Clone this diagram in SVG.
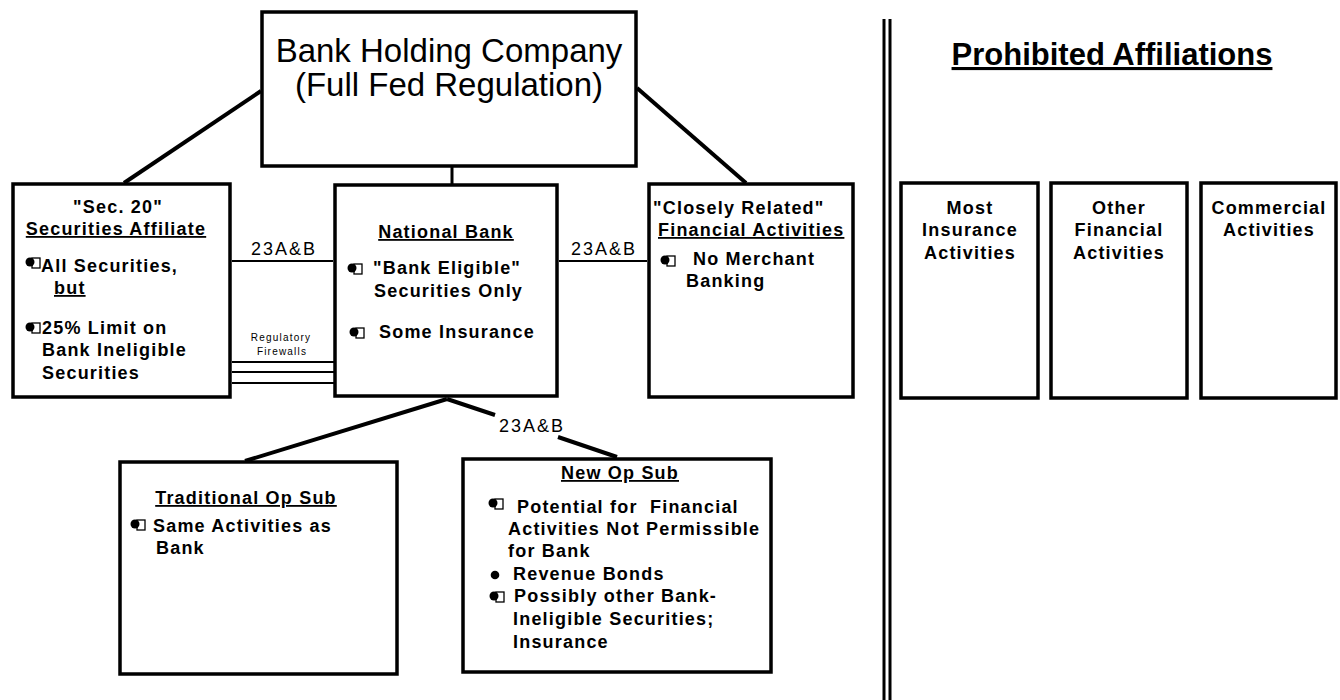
<svg xmlns="http://www.w3.org/2000/svg" xmlns:xlink="http://www.w3.org/1999/xlink" width="1340" height="700" viewBox="0 0 1340 700">
  <style>
    .box { fill: #fff; stroke: #000; stroke-width: 3.5; }
    .link { stroke: #000; fill: none; stroke-linecap: butt; }
    .heavy { stroke-width: 4; }
    .thin { stroke-width: 2; }
    .t { font-family: "Liberation Sans", Arial, sans-serif; font-weight: bold; font-size: 18px; letter-spacing: 1.2px; fill: #000; }
    .c { text-anchor: middle; }
    .u { text-decoration: underline; }
    .title { font-family: "Liberation Sans", Arial, sans-serif; font-size: 33px; fill: #000; text-anchor: middle; }
    .head { font-family: "Liberation Sans", Arial, sans-serif; font-weight: bold; font-size: 31px; fill: #000; text-anchor: middle; text-decoration: underline; }
    .lbl { font-family: "Liberation Sans", Arial, sans-serif; font-size: 18px; letter-spacing: 2px; fill: #000; text-anchor: middle; }
    .small { font-family: "Liberation Sans", Arial, sans-serif; font-size: 10px; letter-spacing: 1.2px; fill: #000; text-anchor: middle; }
  </style>
  <defs>
    <!-- bullet: filled dot over a small hollow square -->
    <g id="blt">
      <rect x="2" y="-4" width="8" height="10" fill="#fff" stroke="#000" stroke-width="1.3"/>
      <circle cx="0" cy="0" r="4.5" fill="#000"/>
    </g>
    <circle id="dot" cx="0" cy="0" r="4.3" fill="#000"/>
  </defs>

  <rect width="1340" height="700" fill="#fff"/>

  <!-- connectors -->
  <g id="connectors">
    <line class="link heavy" x1="261" y1="91" x2="124" y2="183"/>
    <line class="link heavy" x1="637" y1="88" x2="746" y2="183"/>
    <line class="link" stroke-width="3" x1="452" y1="166" x2="452" y2="185"/>
    <line class="link thin" x1="232" y1="261" x2="333" y2="261"/>
    <line class="link thin" x1="559" y1="261" x2="647" y2="261"/>
    <line class="link thin" x1="232" y1="362" x2="335" y2="362"/>
    <line class="link thin" x1="232" y1="372" x2="335" y2="372"/>
    <line class="link thin" x1="232" y1="383" x2="335" y2="383"/>
    <line class="link heavy" x1="447" y1="399" x2="245" y2="461"/>
    <line class="link heavy" x1="447" y1="399" x2="495" y2="415"/>
    <line class="link heavy" x1="558" y1="437" x2="617" y2="457"/>
    <text class="lbl" x="284" y="255">23A&amp;B</text>
    <text class="lbl" x="604" y="255">23A&amp;B</text>
    <text class="lbl" x="532" y="432">23A&amp;B</text>
    <text class="small" x="281" y="341">Regulatory</text>
    <text class="small" x="282" y="355">Firewalls</text>
  </g>

  <!-- divider between permitted and prohibited -->
  <g id="divider">
    <line class="link" stroke-width="3" x1="884" y1="19" x2="884" y2="700"/>
    <line class="link" stroke-width="3" x1="890" y1="19" x2="890" y2="700"/>
  </g>

  <g id="bhc">
    <rect class="box" x="262" y="12" width="374" height="154"/>
    <text class="title" x="449" y="62">Bank Holding Company</text>
    <text class="title" x="449" y="96">(Full Fed Regulation)</text>
  </g>

  <g id="sec20">
    <rect class="box" x="13" y="184" width="217" height="213"/>
    <text class="t c" x="118" y="213">"Sec. 20"</text>
    <text class="t c u" x="116" y="235">Securities Affiliate</text>
    <use xlink:href="#blt" x="30" y="262"/>
    <text class="t" x="41" y="272">All Securities,</text>
    <text class="t u" x="54" y="294">but</text>
    <use xlink:href="#blt" x="30" y="327"/>
    <text class="t" x="42" y="334">25% Limit on</text>
    <text class="t" x="42" y="356">Bank Ineligible</text>
    <text class="t" x="42" y="379">Securities</text>
  </g>

  <g id="national-bank">
    <rect class="box" x="335" y="185" width="222" height="211"/>
    <text class="t c u" x="446" y="238">National Bank</text>
    <use xlink:href="#blt" x="352" y="268"/>
    <text class="t" x="373" y="274">"Bank Eligible"</text>
    <text class="t" x="374" y="297">Securities Only</text>
    <use xlink:href="#blt" x="354" y="332"/>
    <text class="t" x="379" y="338">Some Insurance</text>
  </g>

  <g id="closely-related">
    <rect class="box" x="649" y="184" width="204" height="213"/>
    <text class="t" x="653" y="214">"Closely Related"</text>
    <text class="t u" x="658" y="236">Financial Activities</text>
    <use xlink:href="#blt" x="665" y="260"/>
    <text class="t" x="693" y="265">No Merchant</text>
    <text class="t" x="686" y="287">Banking</text>
  </g>

  <g id="prohibited">
    <text class="head" x="1112" y="65">Prohibited Affiliations</text>
  </g>

  <g id="insurance">
    <rect class="box" x="901" y="183" width="137" height="215"/>
    <text class="t c" x="970" y="214">Most</text>
    <text class="t c" x="970" y="236">Insurance</text>
    <text class="t c" x="970" y="259">Activities</text>
  </g>

  <g id="other-financial">
    <rect class="box" x="1051" y="183" width="136" height="215"/>
    <text class="t c" x="1119" y="214">Other</text>
    <text class="t c" x="1119" y="236">Financial</text>
    <text class="t c" x="1119" y="259">Activities</text>
  </g>

  <g id="commercial">
    <rect class="box" x="1201" y="183" width="135" height="215"/>
    <text class="t c" x="1269" y="214">Commercial</text>
    <text class="t c" x="1269" y="236">Activities</text>
  </g>

  <g id="traditional-op-sub">
    <rect class="box" x="120" y="462" width="277" height="212"/>
    <text class="t c u" x="246" y="504">Traditional Op Sub</text>
    <use xlink:href="#blt" x="135" y="524"/>
    <text class="t" x="153" y="532">Same Activities as</text>
    <text class="t" x="156" y="554">Bank</text>
  </g>

  <g id="new-op-sub">
    <rect class="box" x="463" y="459" width="308" height="213"/>
    <text class="t c u" x="620" y="479">New Op Sub</text>
    <use xlink:href="#blt" x="493" y="503"/>
    <text class="t" x="517" y="513" xml:space="preserve">Potential for  Financial</text>
    <text class="t" x="508" y="535">Activities Not Permissible</text>
    <text class="t" x="508" y="557">for Bank</text>
    <use xlink:href="#dot" x="495" y="575"/>
    <text class="t" x="513" y="580">Revenue Bonds</text>
    <use xlink:href="#blt" x="494" y="596"/>
    <text class="t" x="514" y="602">Possibly other Bank-</text>
    <text class="t" x="513" y="625">Ineligible Securities;</text>
    <text class="t" x="513" y="648">Insurance</text>
  </g>
</svg>
